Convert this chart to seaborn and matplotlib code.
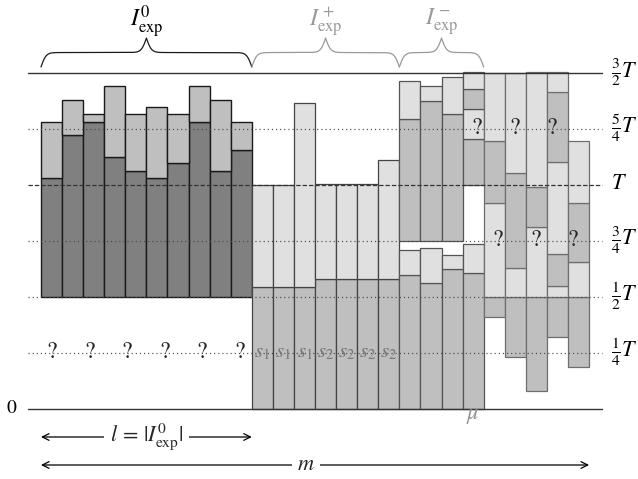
import numpy as np
import matplotlib
matplotlib.use("Agg")
import matplotlib.pyplot as plt
import seaborn as sns

# ---------------- data (values in units of T) ----------------
levels = [0.25, 0.5, 0.75, 1.0, 1.25, 1.5]
level_labels = [r"$\frac{1}{4}T$", r"$\frac{1}{2}T$", r"$\frac{3}{4}T$", r"$T$",
                r"$\frac{5}{4}T$", r"$\frac{3}{2}T$"]

# I^0_exp : 10 bars, base at T/2, dark part then lighter part
i0_base = 0.5
i0_dark_top = [1.031, 1.219, 1.281, 1.125, 1.0625, 1.031, 1.094, 1.281, 1.0625, 1.156]
i0_top = [1.281, 1.376, 1.314, 1.440, 1.314, 1.345, 1.314, 1.440, 1.376, 1.281]

# I^+_exp : 7 bars, medium part up to s, light part above
ip_s = [0.542, 0.542, 0.542, 0.579, 0.579, 0.579, 0.579]
ip_top = [1.0, 1.0, 1.365, 1.0, 1.0, 1.0, 1.110]
ip_labels = [r"$s_1$", r"$s_1$", r"$s_1$", r"$s_2$", r"$s_2$", r"$s_2$", r"$s_2$"]

# I^-_exp : 4 bars, lower and upper stacks (segment boundaries, medium/light alternating)
im_lower = [[0.0, 0.597, 0.707], [0.0, 0.561, 0.717], [0.0, 0.624, 0.686], [0.0, 0.605, 0.733]]
im_upper = [[0.75, 1.292, 1.460], [0.75, 1.375, 1.440], [0.75, 1.315, 1.478],
            [1.0, 1.204, 1.338, 1.427, 1.5]]

# remaining 5 bars (unknown "?") : segment boundaries, medium/light alternating
q_stacks = [[0.409, 0.5, 0.918, 1.192, 1.5],
            [0.228, 0.5, 0.629, 1.051, 1.5],
            [0.076, 0.5, 0.810, 0.991, 1.5],
            [0.317, 0.5, 0.548, 0.689, 1.101, 1.412, 1.5],
            [0.1875, 0.5, 0.652, 0.918, 1.192]]

# "?" marks along dotted lines (x in bar units, y level)
q_left_x = [0.52, 2.30, 4.08, 5.86, 7.64, 9.42]
q_upper_x = [20.68, 22.46, 24.24]
q_lower_x = [21.68, 23.46, 25.24]

# ---------------- style ----------------
sns.set_theme(style="white")
plt.rcParams["font.family"] = ["STIXGeneral", "DejaVu Serif"]
plt.rcParams["mathtext.fontset"] = "stix"

DARK = "#808080"
MID = "#bfbfbf"
LIGHT = "#e0e0e0"
GRAYTXT = "#8f8f8f"

fig = plt.figure(figsize=(6.38, 4.79), dpi=100)
ax = fig.add_axes([0, 0, 1, 1])
ax.set_xlim(-41 / 21.08, (638 - 41) / 21.08)
ax.set_ylim((408.5 - 479) / 224, 408.5 / 224)
ax.axis("off")


def draw_stack(x, bounds, ec, lw):
    for k in range(len(bounds) - 1):
        col = MID if k % 2 == 0 else LIGHT
        ax.bar(x, bounds[k + 1] - bounds[k], bottom=bounds[k], width=1, align="edge",
               color=col, edgecolor=ec, linewidth=lw, zorder=2)


# I0 group
n0 = len(i0_top)
x0 = np.arange(n0)
ax.bar(x0, np.array(i0_dark_top) - i0_base, bottom=i0_base, width=1, align="edge",
       color=DARK, edgecolor="#1a1a1a", linewidth=1.0, zorder=2)
ax.bar(x0, np.array(i0_top) - np.array(i0_dark_top), bottom=i0_dark_top, width=1, align="edge",
       color=MID, edgecolor="#1a1a1a", linewidth=1.0, zorder=2)

# I+ group
xp = n0 + np.arange(len(ip_s))
ax.bar(xp, ip_s, width=1, align="edge", color=MID, edgecolor="#444444", linewidth=0.9, zorder=2)
ax.bar(xp, np.array(ip_top) - np.array(ip_s), bottom=ip_s, width=1, align="edge",
       color=LIGHT, edgecolor="#444444", linewidth=0.9, zorder=2)

# I- group
xm = xp[-1] + 1 + np.arange(len(im_lower))
for x, lo, up in zip(xm, im_lower, im_upper):
    draw_stack(x, lo, "#555555", 0.9)
    draw_stack(x, up, "#555555", 0.9)

# remaining bars
xq = xm[-1] + 1 + np.arange(len(q_stacks))
for x, st in zip(xq, q_stacks):
    draw_stack(x, st, "#6e6e6e", 0.9)

# reference lines
xl0, xl1 = (28 - 41) / 21.08, (602 - 41) / 21.08
ax.plot([xl0, xl1], [0, 0], color="#333333", lw=1.0, zorder=3)
ax.plot([xl0, xl1], [1.5, 1.5], color="#333333", lw=1.0, zorder=3)
ax.plot([xl0, xl1], [1.0, 1.0], color="#333333", lw=0.9, ls=(0, (3.5, 1.6)), zorder=3)
for lv in [0.25, 0.5, 0.75, 1.25]:
    ax.plot([xl0, xl1], [lv, lv], color="#4a4a4a", lw=0.9, ls=(0, (0.9, 2.4)), zorder=3)

# right labels
for lv, lab in zip(levels, level_labels):
    ax.text(27.05, lv, lab, ha="left", va="center", fontsize=16, color="black")
ax.text(-1.38, 0, "0", ha="center", va="center", fontsize=14, color="black")

# "?" marks
for x in q_left_x:
    ax.text(x, 0.25, "?", ha="center", va="center", fontsize=17, zorder=4)
for x in q_upper_x:
    ax.text(x, 1.25, "?", ha="center", va="center", fontsize=17, zorder=4)
for x in q_lower_x:
    ax.text(x, 0.75, "?", ha="center", va="center", fontsize=17, zorder=4)

# s labels
for x, lab in zip(xp, ip_labels):
    ax.text(x + 0.5, 0.25, lab, ha="center", va="center", fontsize=15, color="#777777", zorder=4)

# mu label
ax.text(xm[-1] + 0.5, -0.035, r"$\mu$", ha="center", va="center", fontsize=16, color=GRAYTXT)


# braces
def brace(x1, x2, color):
    beta = 8.4
    xs = np.linspace(x1, (x1 + x2) / 2, 301)
    yh = 1 / (1 + np.exp(-beta * (xs - xs[0]))) + 1 / (1 + np.exp(-beta * (xs - xs[-1])))
    xx = np.concatenate((xs, x1 + x2 - xs[-2::-1]))
    yy = np.concatenate((yh, yh[-2::-1]))
    yb = 1.5246 + (yy - 0.5) * 0.129
    ax.plot(xx, yb, color=color, lw=0.9, zorder=3)


brace(0, n0, "#1a1a1a")
brace(xp[0], xp[-1] + 1, "#999999")
brace(xm[0], xm[-1] + 1, "#999999")
ax.text(n0 / 2, 1.725, r"$I^0_{\mathrm{exp}}$", ha="center", va="center", fontsize=17, color="black")
ax.text((xp[0] + xp[-1] + 1) / 2, 1.725, r"$I^+_{\mathrm{exp}}$", ha="center", va="center",
        fontsize=17, color="#999999")
ax.text((xm[0] + xm[-1] + 1) / 2, 1.725, r"$I^-_{\mathrm{exp}}$", ha="center", va="center",
        fontsize=17, color="#999999")

# bottom arrows
yl = (408.5 - 437) / 224
ym = (408.5 - 465) / 224
ax.annotate("", xy=(n0, yl), xytext=(0, yl),
            arrowprops=dict(arrowstyle="<->", lw=0.9, color="black", shrinkA=0, shrinkB=0,
                            mutation_scale=12))
ax.text(n0 / 2, yl, r"$l\,=\,|I^0_{\mathrm{exp}}|$", ha="center", va="center", fontsize=16,
        bbox=dict(facecolor="white", edgecolor="none", pad=4))
ntot = xq[-1] + 1
ax.annotate("", xy=(ntot, ym), xytext=(0, ym),
            arrowprops=dict(arrowstyle="<->", lw=0.9, color="black", shrinkA=0, shrinkB=0,
                            mutation_scale=12))
ax.text((306 - 41) / 21.08, ym, r"$m$", ha="center", va="center", fontsize=16,
        bbox=dict(facecolor="white", edgecolor="none", pad=4))

fig.savefig("out.png", dpi=100)
